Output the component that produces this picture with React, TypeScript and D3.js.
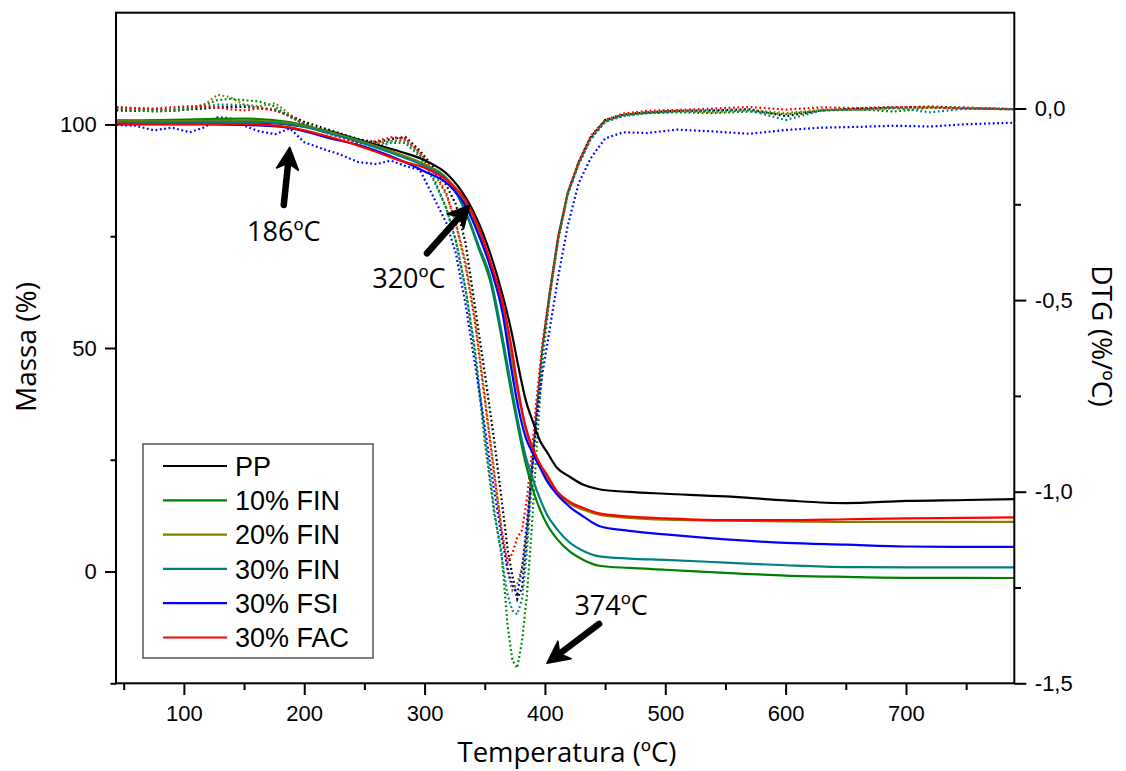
import React, { useRef, useEffect } from 'react'
import * as d3 from 'd3'

// series (legend order)
const seriesNames = ['PP', '10% FIN', '20% FIN', '30% FIN', '30% FSI', '30% FAC']
const seriesColors = ['#000000', '#008000', '#808000', '#008080', '#0000ff', '#ff0000']

// TG curves, massa (%) read at these temperatures (ºC)
const tgTemps = [44, 80, 120, 150, 186, 220, 250, 280, 300, 320, 335, 345, 355, 365, 372, 378, 384, 390, 396, 402, 410, 420, 432, 445, 470, 500, 550, 600, 650, 700, 750, 790]
const tgPP = [100.8, 100.7, 100.6, 100.5, 100.0, 98.5, 96.2, 93.9, 92.0, 88.6, 83.3, 78.0, 70.8, 61.7, 53.9, 45.8, 38.4, 33.5, 29.2, 26.6, 23.2, 21.3, 19.4, 18.4, 17.8, 17.4, 16.8, 15.9, 15.3, 15.8, 16.0, 16.2]
const tgFin10 = [100.9, 101.0, 101.2, 101.3, 100.6, 98.4, 96.0, 93.2, 91.0, 87.4, 79.8, 72.3, 64.5, 50.8, 40.2, 31.8, 24.2, 18.3, 13.8, 10.4, 7.3, 4.6, 2.6, 1.3, 0.8, 0.4, -0.3, -0.9, -1.2, -1.4, -1.4, -1.45]
const tgFin20 = [100.7, 100.7, 100.8, 100.9, 100.3, 98.3, 95.9, 93.2, 91.0, 87.5, 82.0, 76.0, 68.2, 58.5, 48.0, 39.5, 32.0, 27.0, 23.4, 20.9, 17.6, 15.3, 13.8, 12.7, 12.0, 11.6, 11.4, 11.2, 11.1, 11.1, 11.1, 11.1]
const tgFin30 = [100.5, 100.5, 100.6, 100.6, 100.1, 98.1, 95.7, 92.9, 90.7, 87.2, 80.0, 72.8, 65.5, 52.0, 41.5, 33.0, 25.8, 20.6, 16.2, 12.6, 9.5, 6.6, 4.6, 3.4, 2.9, 2.6, 2.0, 1.4, 1.0, 0.95, 0.95, 0.95]
const tgFsi30 = [100.0, 100.0, 100.0, 99.9, 99.3, 97.0, 95.0, 92.0, 89.5, 86.5, 81.3, 75.2, 67.8, 57.5, 45.5, 36.5, 30.0, 26.4, 23.2, 20.1, 17.3, 14.6, 12.3, 10.2, 9.1, 8.3, 7.2, 6.4, 6.0, 5.6, 5.5, 5.5]
const tgFac30 = [100.2, 100.1, 100.1, 100.1, 99.4, 97.3, 94.8, 91.9, 90.3, 87.2, 82.6, 77.0, 69.0, 60.0, 50.5, 40.3, 32.3, 27.5, 24.0, 21.5, 18.0, 15.7, 14.2, 13.0, 12.3, 11.9, 11.5, 11.5, 11.7, 11.9, 12.0, 12.1]

// DTG curves (%/ºC), dotted
const dtgTemps = [44, 60, 75, 90, 105, 118, 128, 138, 150, 163, 176, 188, 200, 215, 230, 245, 260, 272, 284, 296, 308, 318, 326, 334, 342, 350, 358, 364, 369, 373, 377, 381, 385, 389, 393, 398, 404, 411, 419, 428, 438, 450, 465, 485, 510, 540, 570, 600, 630, 660, 690, 720, 750, 790]
const dtgPP = [-0.005, -0.006, -0.004, -0.006, -0.002, 0.0, 0.003, 0.004, 0.004, 0.002, -0.005, -0.018, -0.035, -0.05, -0.065, -0.08, -0.088, -0.08, -0.074, -0.11, -0.155, -0.2, -0.25, -0.35, -0.52, -0.69, -0.87, -1.02, -1.15, -1.22, -1.28, -1.25, -1.12, -0.95, -0.8, -0.63, -0.48, -0.335, -0.22, -0.14, -0.075, -0.03, -0.016, -0.01, -0.006, -0.005, -0.002, -0.02, -0.005, 0.0, 0.002, 0.005, 0.002, -0.002]
const dtgFin10 = [0.0, -0.004, -0.008, -0.006, -0.002, 0.01, 0.022, 0.025, 0.022, 0.018, 0.005, -0.022, -0.04, -0.06, -0.072, -0.09, -0.095, -0.085, -0.082, -0.12, -0.185, -0.26, -0.345, -0.47, -0.64, -0.87, -1.06, -1.16, -1.35, -1.44, -1.46, -1.39, -1.27, -1.1, -0.89, -0.66, -0.49, -0.345, -0.225, -0.145, -0.08, -0.034, -0.018, -0.012, -0.01, -0.012, -0.008, -0.015, -0.005, -0.002, -0.008, 0.002, 0.0, -0.002]
const dtgFin20 = [0.002, -0.002, -0.004, -0.004, 0.0, 0.012, 0.036, 0.03, 0.01, 0.006, 0.014, -0.015, -0.045, -0.06, -0.07, -0.085, -0.09, -0.085, -0.085, -0.115, -0.17, -0.225, -0.3, -0.4, -0.55, -0.75, -0.95, -1.1, -1.21, -1.257, -1.24, -1.2, -1.1, -0.95, -0.78, -0.62, -0.49, -0.34, -0.22, -0.14, -0.075, -0.033, -0.018, -0.01, -0.006, -0.01, -0.004, -0.012, -0.003, -0.004, 0.0, 0.003, 0.002, -0.002]
const dtgFin30 = [0.003, 0.0, -0.003, -0.002, 0.002, 0.006, 0.01, 0.01, 0.008, 0.002, -0.002, -0.02, -0.04, -0.06, -0.075, -0.09, -0.1, -0.09, -0.09, -0.125, -0.19, -0.26, -0.345, -0.47, -0.63, -0.85, -1.05, -1.17, -1.27, -1.31, -1.32, -1.28, -1.16, -0.98, -0.79, -0.62, -0.48, -0.335, -0.22, -0.145, -0.08, -0.035, -0.02, -0.012, -0.008, -0.006, -0.005, -0.03, -0.005, -0.003, 0.002, -0.01, 0.0, -0.002]
const dtgFsi30 = [-0.043, -0.045, -0.057, -0.05, -0.062, -0.048, -0.023, -0.025, -0.045, -0.06, -0.067, -0.052, -0.088, -0.105, -0.12, -0.14, -0.145, -0.136, -0.15, -0.16, -0.235, -0.298, -0.378, -0.51, -0.67, -0.83, -1.0, -1.12, -1.2, -1.245, -1.266, -1.2, -1.08, -0.95, -0.81, -0.69, -0.575, -0.44, -0.305, -0.195, -0.13, -0.078, -0.062, -0.064, -0.055, -0.06, -0.066, -0.056, -0.05, -0.048, -0.045, -0.047, -0.041, -0.037]
const dtgFac30 = [0.004, 0.001, 0.0, 0.003, 0.006, 0.005, 0.003, -0.002, -0.005, 0.0, -0.005, -0.02, -0.04, -0.06, -0.075, -0.09, -0.085, -0.075, -0.078, -0.115, -0.165, -0.22, -0.3, -0.41, -0.56, -0.76, -0.96, -1.1, -1.185, -1.16, -1.12, -1.1, -1.02, -0.9, -0.76, -0.61, -0.48, -0.335, -0.22, -0.14, -0.072, -0.03, -0.013, -0.006, -0.004, 0.0, 0.004, -0.003, 0.003, 0.001, 0.004, 0.003, 0.0, -0.001]

const tgSeries = [tgPP, tgFin10, tgFin20, tgFin30, tgFsi30, tgFac30]
const dtgSeries = [dtgPP, dtgFin10, dtgFin20, dtgFin30, dtgFsi30, dtgFac30]

// axes
const tempTicks = [100, 200, 300, 400, 500, 600, 700]
const tempMinorTicks = [50, 150, 250, 350, 450, 550, 650, 750]
const massaTicks = [0, 50, 100]
const massaMinorTicks = [-25, 25, 75]
const dtgTicks = [0, -0.5, -1, -1.5]
const dtgTickLabels = ['0,0', '-0,5', '-1,0', '-1,5']
const dtgMinorTicks = [-0.25, -0.75, -1.25]

// arrow annotations: [temperature, massa]
const noteLabels = ['186ºC', '320ºC', '374ºC']
const noteText = [[183, 74], [287, 63.4], [455, -9.7]]
const noteTail = [[183, 82], [302, 71.2], [445, -11.7]]
const noteTip = [[188, 94.9], [337.7, 82], [401.7, -20.5]]

const W = 1126
const H = 771

function drawArrow(g, x1, y1, x2, y2) {
  const ang = Math.atan2(y2 - y1, x2 - x1)
  const c = Math.cos(ang)
  const s = Math.sin(ang)
  const len = 22
  const half = 11
  g.append('line')
    .attr('x1', x1)
    .attr('y1', y1)
    .attr('x2', x2 - c * len * 0.6)
    .attr('y2', y2 - s * len * 0.6)
    .attr('stroke', '#000')
    .attr('stroke-width', 6.5)
    .attr('stroke-linecap', 'round')
  const bx = x2 - c * len
  const by = y2 - s * len
  const nx = x2 - c * len * 0.72
  const ny = y2 - s * len * 0.72
  const pts = [
    [x2, y2],
    [bx - s * half, by + c * half],
    [nx, ny],
    [bx + s * half, by - c * half]
  ]
  g.append('polygon')
    .attr('points', pts.map(p => p.join(',')).join(' '))
    .attr('fill', '#000')
    .attr('stroke', '#000')
    .attr('stroke-width', 1.5)
    .attr('stroke-linejoin', 'round')
}

function drawChart(svg) {
  const left = 116
  const right = 1014.3
  const top = 12.7
  const bottom = 683.3

  const x = d3.scaleLinear().domain([43.6, 790]).range([left, right])
  const yMassa = d3.scaleLinear().domain([-25, 125]).range([bottom, top])
  const yDtg = d3.scaleLinear().domain([-1.5, 0.25]).range([bottom, top])

  const tickFont = '"Liberation Sans", Arial, sans-serif'
  const textFont = '"Open Sans", sans-serif'

  svg.append('rect').attr('width', W).attr('height', H).attr('fill', '#fff')

  // DTG, dotted
  const dtgLine = d3
    .line()
    .x((d, i) => x(dtgTemps[i]))
    .y(d => yDtg(d))
  dtgSeries.forEach((vals, k) => {
    svg
      .append('path')
      .attr('d', dtgLine(vals))
      .attr('fill', 'none')
      .attr('stroke', seriesColors[k])
      .attr('stroke-width', 2.2)
      .attr('stroke-dasharray', '1.8 2.6')
  })

  // TG, solid
  const tgLine = d3
    .line()
    .curve(d3.curveMonotoneX)
    .x((d, i) => x(tgTemps[i]))
    .y(d => yMassa(d))
  tgSeries.forEach((vals, k) => {
    svg
      .append('path')
      .attr('d', tgLine(vals))
      .attr('fill', 'none')
      .attr('stroke', seriesColors[k])
      .attr('stroke-width', 2.2)
  })

  // frame
  svg
    .append('rect')
    .attr('x', left)
    .attr('y', top)
    .attr('width', right - left)
    .attr('height', bottom - top)
    .attr('fill', 'none')
    .attr('stroke', '#000')
    .attr('stroke-width', 2)

  const styleAxis = g => {
    g.select('.domain').remove()
    g.selectAll('line').attr('stroke', '#000').attr('stroke-width', 2)
    g.selectAll('text')
      .attr('fill', '#000')
      .style('font-family', tickFont)
      .style('font-size', '22px')
  }

  // bottom axis
  svg
    .append('g')
    .attr('transform', `translate(0,${bottom})`)
    .call(d3.axisBottom(x).tickValues(tempTicks).tickSize(11.7).tickPadding(10))
    .call(styleAxis)
  svg
    .append('g')
    .attr('transform', `translate(0,${bottom})`)
    .call(d3.axisBottom(x).tickValues(tempMinorTicks).tickSize(6.7).tickFormat(() => ''))
    .call(styleAxis)

  // left axis
  svg
    .append('g')
    .attr('transform', `translate(${left},0)`)
    .call(d3.axisLeft(yMassa).tickValues(massaTicks).tickSize(11).tickPadding(8.3))
    .call(styleAxis)
  svg
    .append('g')
    .attr('transform', `translate(${left},0)`)
    .call(d3.axisLeft(yMassa).tickValues(massaMinorTicks).tickSize(5.5).tickFormat(() => ''))
    .call(styleAxis)

  // right axis
  svg
    .append('g')
    .attr('transform', `translate(${right},0)`)
    .call(
      d3
        .axisRight(yDtg)
        .tickValues(dtgTicks)
        .tickSize(12)
        .tickPadding(8.5)
        .tickFormat((d, i) => dtgTickLabels[i])
    )
    .call(styleAxis)
  svg
    .append('g')
    .attr('transform', `translate(${right},0)`)
    .call(d3.axisRight(yDtg).tickValues(dtgMinorTicks).tickSize(6.7).tickFormat(() => ''))
    .call(styleAxis)

  // axis titles
  svg
    .append('text')
    .attr('x', 567)
    .attr('y', 762)
    .attr('text-anchor', 'middle')
    .style('font-family', textFont)
    .style('font-size', '27.5px')
    .text('Temperatura (ºC)')
  svg
    .append('text')
    .attr('transform', `translate(36,347) rotate(-90)`)
    .attr('text-anchor', 'middle')
    .style('font-family', textFont)
    .style('font-size', '28px')
    .text('Massa (%)')
  svg
    .append('text')
    .attr('transform', `translate(1092,336) rotate(90)`)
    .attr('text-anchor', 'middle')
    .style('font-family', textFont)
    .style('font-size', '28px')
    .text('DTG (%/ºC)')

  // annotations
  const notes = svg.append('g')
  noteLabels.forEach((label, i) => {
    drawArrow(
      notes,
      x(noteTail[i][0]),
      yMassa(noteTail[i][1]),
      x(noteTip[i][0]),
      yMassa(noteTip[i][1])
    )
    notes
      .append('text')
      .attr('x', x(noteText[i][0]))
      .attr('y', yMassa(noteText[i][1]))
      .attr('text-anchor', 'middle')
      .style('font-family', textFont)
      .style('font-size', '27px')
      .text(label)
  })

  // legend
  const legend = svg.append('g')
  legend
    .append('rect')
    .attr('x', 143)
    .attr('y', 444)
    .attr('width', 230)
    .attr('height', 214)
    .attr('fill', '#fff')
    .attr('stroke', '#555')
    .attr('stroke-width', 1.5)
  seriesNames.forEach((name, k) => {
    const cy = 466 + k * 34.3
    legend
      .append('line')
      .attr('x1', 163)
      .attr('x2', 227)
      .attr('y1', cy)
      .attr('y2', cy)
      .attr('stroke', seriesColors[k])
      .attr('stroke-width', 2.2)
    legend
      .append('text')
      .attr('x', 235)
      .attr('y', cy)
      .attr('dy', '0.36em')
      .style('font-family', tickFont)
      .style('font-size', '27px')
      .text(name)
  })
}

export default function App() {
  const svgRef = useRef(null)

  useEffect(() => {
    const svg = d3.select(svgRef.current)
    svg.selectAll('*').remove()
    drawChart(svg)
  }, [])

  return (
    <svg
      ref={svgRef}
      width={W}
      height={H}
      style={{ position: 'absolute', left: 0, top: 0, display: 'block' }}
    />
  )
}
